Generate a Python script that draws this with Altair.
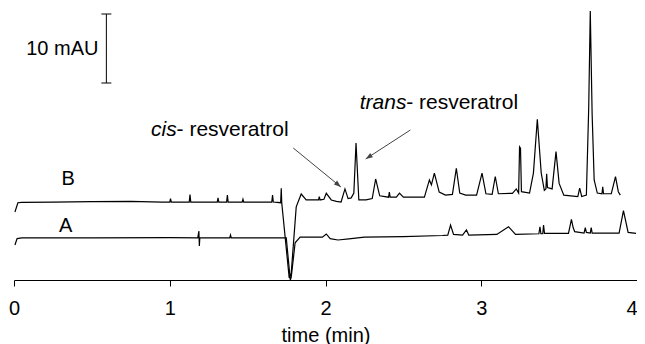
import math
import altair as alt
import pandas as pd

# ---- trace B (time in min, absorbance in mAU) ----
b_time = [0.006, 0.025, 0.05, 0.25, 0.50, 0.75, 0.95, 1.000, 1.005, 1.010, 1.125, 1.130, 1.135,
          1.305, 1.310, 1.315, 1.365, 1.370, 1.375, 1.465, 1.470, 1.475, 1.655, 1.660, 1.665,
          1.712, 1.716, 1.719, 1.767, 1.780, 1.812, 1.844, 1.876, 1.955, 1.960, 1.965, 1.990,
          2.005, 2.037, 2.07, 2.10, 2.125, 2.145, 2.165, 2.182, 2.196, 2.214, 2.26, 2.300,
          2.322, 2.348, 2.405, 2.410, 2.415, 2.455, 2.475, 2.50, 2.635, 2.667, 2.680, 2.699,
          2.730, 2.770, 2.815, 2.840, 2.862, 2.90, 2.970, 3.005, 3.030, 3.070, 3.090, 3.110,
          3.20, 3.225, 3.240, 3.246, 3.252, 3.258, 3.31, 3.335, 3.360, 3.385, 3.405, 3.415,
          3.420, 3.425, 3.455, 3.480, 3.500, 3.53, 3.62, 3.632, 3.645, 3.675, 3.690, 3.700,
          3.712, 3.725, 3.745, 3.775, 3.780, 3.785, 3.835, 3.862, 3.880, 3.893]
b_mau = [9.86, 11.2, 11.25, 11.3, 11.35, 11.4, 11.3, 11.3, 11.8, 11.3, 11.3, 12.4, 11.3,
         11.3, 11.9, 11.3, 11.3, 12.3, 11.3, 11.3, 11.7, 11.3, 11.3, 12.3, 11.3,
         11.2, 13.3, 11.2, 0.3, 1.0, 10.6, 12.46, 11.6, 11.6, 12.1, 11.6, 11.7,
         12.56, 11.6, 11.4, 11.3, 13.2, 11.8, 11.9, 12.6, 19.86, 11.6, 11.6, 11.8,
         14.64, 12.2, 12.0, 12.75, 12.0, 12.0, 12.6, 12.0, 12.0, 14.5, 13.8, 15.5,
         12.75, 12.3, 12.4, 16.2, 12.6, 12.3, 12.3, 15.5, 12.5, 12.4, 15.0, 12.5,
         12.56, 13.2, 12.6, 19.3, 19.1, 12.8, 12.6, 15.5, 23.3, 15.5, 13.0, 13.2,
         15.4, 13.4, 13.2, 18.6, 14.0, 12.3, 12.1, 13.3, 12.1, 12.3, 25.0, 39.0,
         24.0, 14.5, 12.6, 12.5, 13.5, 12.5, 12.5, 14.97, 12.8, 12.3]

# ---- trace A ----
a_time = [0.006, 0.02, 0.05, 0.50, 1.00, 1.180, 1.187, 1.190, 1.193, 1.385, 1.390, 1.395,
          1.748, 1.774, 1.780, 1.805, 1.837, 1.980, 2.005, 2.030, 2.080, 2.150, 2.250, 2.500,
          2.750, 2.785, 2.803, 2.822, 2.880, 2.905, 2.920, 3.100, 3.175, 3.220, 3.370, 3.377,
          3.383, 3.395, 3.400, 3.406, 3.560, 3.579, 3.590, 3.600, 3.660, 3.668, 3.675, 3.700,
          3.706, 3.712, 3.885, 3.913, 3.943, 3.994]
a_mau = [5.07, 6.0, 6.1, 6.1, 6.15, 6.1, 7.1, 4.93, 6.1, 6.1, 6.52, 6.1,
         6.1, 0.0, 0.4, 5.4, 6.2, 6.2, 6.67, 6.0, 5.8, 5.95, 6.2, 6.3,
         6.45, 6.5, 7.97, 6.6, 6.5, 7.25, 6.5, 6.6, 7.73, 6.6, 6.7, 7.7,
         6.7, 6.7, 7.97, 6.75, 6.75, 8.79, 7.6, 7.0, 6.8, 7.58, 6.9, 6.8,
         7.58, 6.8, 6.8, 10.05, 6.9, 6.76]

# ---- scale bar (10 mAU) ----
bar_time = 0.593
bar_cap = [0.561, 0.625]
bar_mau = [28.55, 38.55]

# ---- labels ----
lbl_text = ["B", "A"]
lbl_time = [0.348, 0.332]
lbl_mau = [14.71, 7.83]

unit_text = "10 mAU"
unit_time = 0.542
unit_mau = 33.48

ann_italic = ["cis", "trans"]
ann_rest = ["- resveratrol", "- resveratrol"]
ann_time = [0.880, 2.220]
ann_rest_time = [1.044, 2.518]
ann_mau = [21.74, 25.65]

# arrows: start -> tip
arr_t0 = [1.793, 2.545]
arr_m0 = [19.13, 21.74]
arr_t1 = [2.099, 2.258]
arr_m1 = [13.48, 17.54]

W, H = 623, 272
X_DOM = [0, 4]
Y_DOM = [0, 39.42]
FONT = "Liberation Sans"

traces = pd.concat([
    pd.DataFrame({"time": b_time, "mau": b_mau, "trace": "B"}),
    pd.DataFrame({"time": a_time, "mau": a_mau, "trace": "A"}),
])

x_axis = alt.Axis(values=[0, 1, 2, 3, 4], format="d", title="time (min)", grid=False,
                  domainColor="black", tickColor="black", tickSize=6, labelPadding=12,
                  labelFontSize=20, labelFont=FONT, labelColor="black", labelFlush=False,
                  labelAlign=alt.ExprRef(expr="datum.value == 4 ? 'right' : 'center'"),
                  titleFontSize=20, titleFont=FONT, titleFontWeight="normal",
                  titleColor="black", titlePadding=7)
xs = alt.Scale(domain=X_DOM, nice=False, zero=False)
ys = alt.Scale(domain=Y_DOM, nice=False, zero=False)


def X(f="time"):
    return alt.X(f"{f}:Q", scale=xs, axis=x_axis)


def Y(f="mau"):
    return alt.Y(f"{f}:Q", scale=ys, axis=None)


lines = alt.Chart(traces).mark_line(color="black", strokeWidth=1.2).encode(
    x=X(), y=Y(), detail="trace:N", order="time:Q")

bar_df = pd.DataFrame({"time": [bar_time], "mau": [bar_mau[0]], "mau2": [bar_mau[1]]})
bar = alt.Chart(bar_df).mark_rule(color="black", strokeWidth=1).encode(
    x=X(), y=Y(), y2="mau2:Q")
cap_df = pd.DataFrame({"time": [bar_cap[0]] * 2, "time2": [bar_cap[1]] * 2, "mau": bar_mau})
caps = alt.Chart(cap_df).mark_rule(color="black", strokeWidth=1).encode(
    x=X(), x2="time2:Q", y=Y())

unit_df = pd.DataFrame({"time": [unit_time], "mau": [unit_mau], "t": [unit_text]})
unit = alt.Chart(unit_df).mark_text(align="right", baseline="middle", fontSize=20,
                                    font=FONT, color="black").encode(x=X(), y=Y(), text="t:N")

lbl_df = pd.DataFrame({"time": lbl_time, "mau": lbl_mau, "t": lbl_text})
lbls = alt.Chart(lbl_df).mark_text(align="center", baseline="middle", fontSize=20,
                                   font=FONT, color="black").encode(x=X(), y=Y(), text="t:N")

it_df = pd.DataFrame({"time": ann_time, "mau": ann_mau, "t": ann_italic})
italic = alt.Chart(it_df).mark_text(align="left", baseline="middle", fontSize=21, font=FONT,
                                    fontStyle="italic", color="black").encode(
    x=X(), y=Y(), text="t:N")
rest_df = pd.DataFrame({"time": ann_rest_time, "mau": ann_mau, "t": ann_rest})
rest = alt.Chart(rest_df).mark_text(align="left", baseline="middle", fontSize=21, font=FONT,
                                    color="black").encode(x=X(), y=Y(), text="t:N")

px_t = W / (X_DOM[1] - X_DOM[0])
px_m = H / (Y_DOM[1] - Y_DOM[0])
angles = []
for t0, m0, t1, m1 in zip(arr_t0, arr_m0, arr_t1, arr_m1):
    dx = (t1 - t0) * px_t
    dy = -(m1 - m0) * px_m
    angles.append(math.degrees(math.atan2(dx, -dy)) % 360)

arr_df = pd.DataFrame({"time": arr_t0, "mau": arr_m0, "time2": arr_t1, "mau2": arr_m1})
arr_lines = alt.Chart(arr_df).mark_rule(color="#444", strokeWidth=1).encode(
    x=X(), y=Y(), x2="time2:Q", y2="mau2:Q")
head_df = pd.DataFrame({"time": arr_t1, "mau": arr_m1, "ang": angles})
heads = alt.Chart(head_df).mark_point(shape="M0,0L0.36,1L-0.36,1Z", size=196, filled=True,
                                      color="#444", opacity=1, strokeWidth=0).encode(
    x=X(), y=Y(), angle=alt.Angle("ang:Q", scale=None))

chart = alt.layer(lines, bar, caps, unit, lbls, italic, rest, arr_lines, heads).properties(
    width=W, height=H,
    autosize=alt.AutoSizeParams(type="none"),
    padding={"left": 6, "top": 0, "right": 0, "bottom": 64},
    background="white",
).configure_view(stroke=None)

chart.save("out.html", embed_options={"renderer": "svg", "actions": False})
